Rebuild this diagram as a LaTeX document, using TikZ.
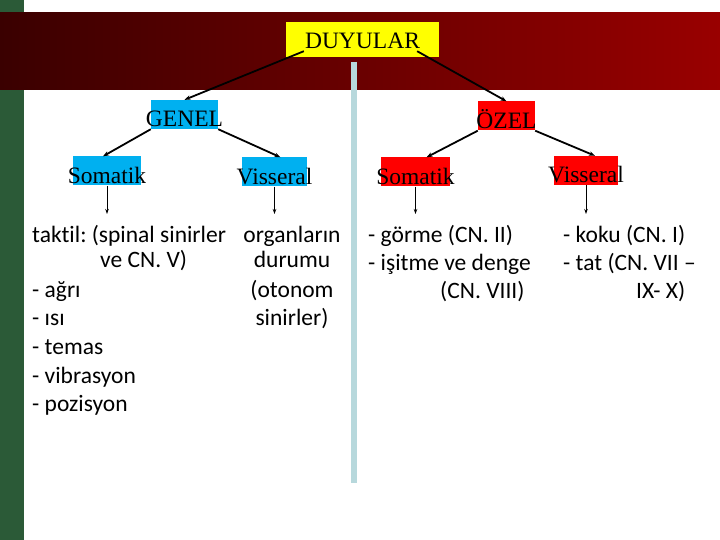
\documentclass[tikz,border=0pt]{standalone}
\usepackage{fontspec}
\newfontfamily\titlefont{Liberation Serif}
\newfontfamily\bodyfont[Ligatures=NoCommon]{Carlito}
\usetikzlibrary{arrows.meta,calc}
\definecolor{bandleft}{HTML}{3A0000}
\definecolor{bandright}{HTML}{990000}
\definecolor{leafgreen}{HTML}{2B5A37}
\definecolor{headyellow}{HTML}{FFFF00}
\definecolor{genelblue}{HTML}{00B0F0}
\definecolor{ozelred}{HTML}{FF0000}
\definecolor{divider}{HTML}{B7D8DC}
\frenchspacing
\tikzset{
	headbox/.style={font=\titlefont\fontsize{23.5}{27}\selectfont, inner ysep=0pt, text height=27pt, text depth=2pt},
	listtext/.style={font=\bodyfont\fontsize{23.5}{29}\selectfont, inner sep=0pt},
	link/.style={line width=1.8pt, -{Stealth[length=6pt,width=4.5pt]}},
	drop/.style={line width=1pt, -{Stealth[length=5pt,width=3.5pt]}}
}

\begin{document}
\begin{tikzpicture}[x=1pt, y=-1pt]
		%%%%% START %%%%%
		\useasboundingbox (0,0) rectangle (720,540);
		\fill[white] (0,0) rectangle (720,540);
		\fill[leafgreen] (0,0) rectangle (24,540);
		\shade[left color=bandleft, right color=bandright] (0,13) rectangle (720,90);
		\draw[line width=6pt, divider] (353.5,62) -- (353.5,483);
		
		% boxes
		\node[headbox, fill=headyellow, inner xsep=19pt, text depth=8pt] (duyular) at (362.5,39.5) {DUYULAR};
		\node[headbox, fill=genelblue, inner xsep=-5pt] (genel) at (184.5,114.5) {GENEL};
		\node[headbox, fill=ozelred, inner xsep=-1.5pt] (ozel) at (506.5,116) {ÖZEL};
		\node[headbox, fill=genelblue, inner xsep=-5pt] (gsomatik) at (107,171) {Somatik};
		\node[headbox, fill=genelblue, inner xsep=-5.6pt] (gvisseral) at (274.5,172) {Visseral};
		\node[headbox, fill=ozelred, inner xsep=-5pt] (osomatik) at (415.5,172) {Somatik};
		\node[headbox, fill=ozelred, inner xsep=-5.6pt] (ovisseral) at (586,170.5) {Visseral};
		
		% links
		\coordinate (dleft) at ($(duyular.south west)+(18,-6)$);
		\coordinate (dright) at ($(duyular.south east)+(-22,-6)$);
		\draw[link] (dleft) -- (genel.north);
		\draw[link] (dright) -- (ozel.north);
		\draw[link] (genel.south west) -- ([xshift=-4pt]gsomatik.north);
		\draw[link] (genel.south east) -- ([xshift=6pt]gvisseral.north);
		\draw[link] (ozel.south west) -- ([xshift=11pt]osomatik.north);
		\draw[link] (ozel.south east) -- ([xshift=9pt]ovisseral.north);
		
		\coordinate (tip) at (0,214);
		\draw[drop] (gsomatik.south) -- (gsomatik.south |- tip);
		\draw[drop] (gvisseral.south) -- (gvisseral.south |- tip);
		\draw[drop] (osomatik.south) -- (osomatik.south |- tip);
		\draw[drop] (ovisseral.south) -- (ovisseral.south |- tip);
		
		% genel somatik
		\node[listtext, anchor=base west] (taktil) at (32,243) {taktil: (spinal sinirler};
		\node[listtext, anchor=base west] (vecn) at (100,267) {ve CN. V)};
		\node[listtext, anchor=base west] (agri) at (32,297) {- ağrı};
		\node[listtext, anchor=base west] (isi) at (32,325) {- ısı};
		\node[listtext, anchor=base west] (temas) at (32,354) {- temas};
		\node[listtext, anchor=base west] (vibrasyon) at (32,383) {- vibrasyon};
		\node[listtext, anchor=base west] (pozisyon) at (32,411) {- pozisyon};
		
		% genel visseral
		\node[listtext, anchor=base] (organlar) at (292,243) {organların};
		\node[listtext, anchor=base] (durumu) at (292,267) {durumu};
		\node[listtext, anchor=base] (otonom) at (292,297) {(otonom};
		\node[listtext, anchor=base] (sinirler) at (292,325) {sinirler)};
		
		% ozel somatik
		\node[listtext, anchor=base west] (gorme) at (368,243) {- görme (CN. II)};
		\node[listtext, anchor=base west] (isitme) at (368,270) {- işitme ve denge};
		\node[listtext, anchor=base west] (cnviii) at (440,298) {(CN. VIII)};
		
		% ozel visseral
		\node[listtext, anchor=base west] (koku) at (563,243) {- koku (CN. I)};
		\node[listtext, anchor=base west] (tat) at (563,270) {- tat (CN. VII –};
		\node[listtext, anchor=base west] (ixx) at (636,298) {IX- X)};
		%%%%% END %%%%%
\end{tikzpicture}
\end{document}
